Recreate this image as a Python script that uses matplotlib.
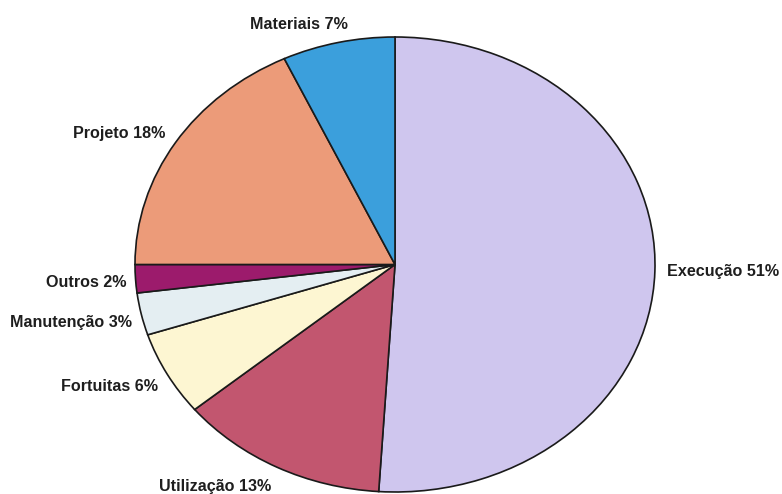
import matplotlib
matplotlib.use("Agg")
import matplotlib.pyplot as plt

# dados do gráfico
categorias = ["Execução", "Utilização", "Fortuitas", "Manutenção", "Outros", "Projeto", "Materiais"]
percentuais = [51, 13, 6, 3, 2, 18, 7]
cores = ["#cfc6ee", "#c2566f", "#fdf6d2", "#e4eef2", "#9c1b6c", "#ec9b79", "#3b9fdc"]

# posição dos rótulos (x, y, alinhamento) em unidades do raio
pos_rotulos = [
    (1.046, -0.030, "left"),
    (-0.692, -0.978, "center"),
    (-0.912, -0.538, "right"),
    (-1.012, -0.253, "right"),
    (-1.031, -0.081, "right"),
    (-0.885, 0.578, "right"),
    (-0.371, 1.057, "center"),
]

plt.rcParams["font.family"] = ["Liberation Sans", "DejaVu Sans"]

W, H = 782, 494
fig = plt.figure(figsize=(W / 100, H / 100), dpi=100)
cx, cy, rx, ry = 395, 264.5, 260, 227.5
ax = fig.add_axes([(cx - rx) / W, (H - cy - ry) / H, 2 * rx / W, 2 * ry / H])

ax.pie(percentuais, colors=cores, startangle=90, counterclock=False,
       wedgeprops=dict(edgecolor="#1a1a1a", linewidth=1.2))
ax.set_aspect("auto")
ax.set_xlim(-1, 1)
ax.set_ylim(-1, 1)

for nome, p, (x, y, ha) in zip(categorias, percentuais, pos_rotulos):
    ax.text(x, y, f"{nome} {p}%", ha=ha, va="center", fontsize=11.6,
            fontweight="bold", color="#1e1e1e", clip_on=False)

fig.savefig("out.png", dpi=100)
